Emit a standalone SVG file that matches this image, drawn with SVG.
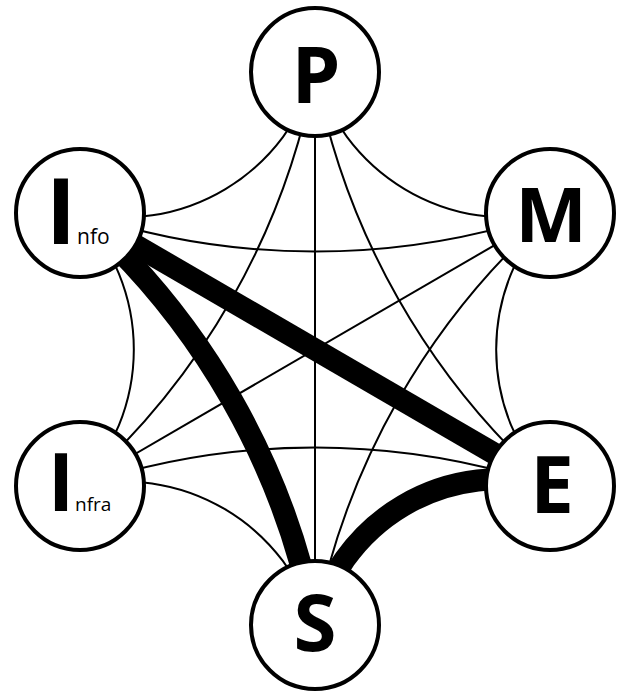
<svg xmlns="http://www.w3.org/2000/svg" width="617" height="691" viewBox="0 0 617 691">
<style>
.e{fill:none;stroke:#000;stroke-width:2}
.t{fill:none;stroke:#000;stroke-width:22}
.n circle{fill:#fff;stroke:#000;stroke-width:4}
.big{font-family:"Open Sans","Liberation Sans",sans-serif;font-weight:bold;fill:#000;text-anchor:middle}
.sm{font-family:"Open Sans","Liberation Sans",sans-serif;fill:#000}
</style>
<rect width="617" height="691" fill="#fff"/>
<g id="connectors">
<path class="e" d="M315,72 A200,200 0 0 0 550,213"/>
<path class="e" d="M550,213 A200,200 0 0 0 550,486"/>
<path class="e" d="M315,625 A200,200 0 0 0 80,486"/>
<path class="e" d="M80,486 A200,200 0 0 0 80,213"/>
<path class="e" d="M80,213 A200,200 0 0 0 315,72"/>
<path class="e" d="M315,72 A735,735 0 0 0 550,486"/>
<path class="e" d="M550,213 A735,735 0 0 0 315,625"/>
<path class="e" d="M550,486 A735,735 0 0 0 80,486"/>
<path class="e" d="M80,486 A735,735 0 0 0 315,72"/>
<path class="e" d="M80,213 A735,735 0 0 0 550,213"/>
<path class="e" d="M315,72 L315,625"/>
<path class="e" d="M550,213 L80,486"/>
<path class="t" d="M80,213 L550,486"/>
<path class="t" d="M315,625 A735,735 0 0 0 80,213"/>
<path class="t" d="M550,486 A190,190 0 0 0 315,625"/>
</g>
<g id="P" class="n"><circle cx="315" cy="72" r="64"/><text class="big" x="316" y="103" font-size="78">P</text></g>
<g id="M" class="n"><circle cx="550" cy="213" r="64"/><text class="big" x="551" y="242" font-size="76">M</text></g>
<g id="E" class="n"><circle cx="550" cy="486" r="64"/><text class="big" x="552" y="513" font-size="78">E</text></g>
<g id="S" class="n"><circle cx="315" cy="625" r="64"/><text class="big" x="315" y="651" font-size="78">S</text></g>
<g id="Info" class="n"><circle cx="80" cy="213" r="64"/><text class="big" x="61" y="244" font-size="92">I</text><text class="sm" x="77" y="244" font-size="21">nfo</text></g>
<g id="Infra" class="n"><circle cx="80" cy="486" r="64"/><text class="big" x="61" y="511" font-size="80">I</text><text class="sm" x="75" y="511" font-size="19">nfra</text></g>
</svg>
